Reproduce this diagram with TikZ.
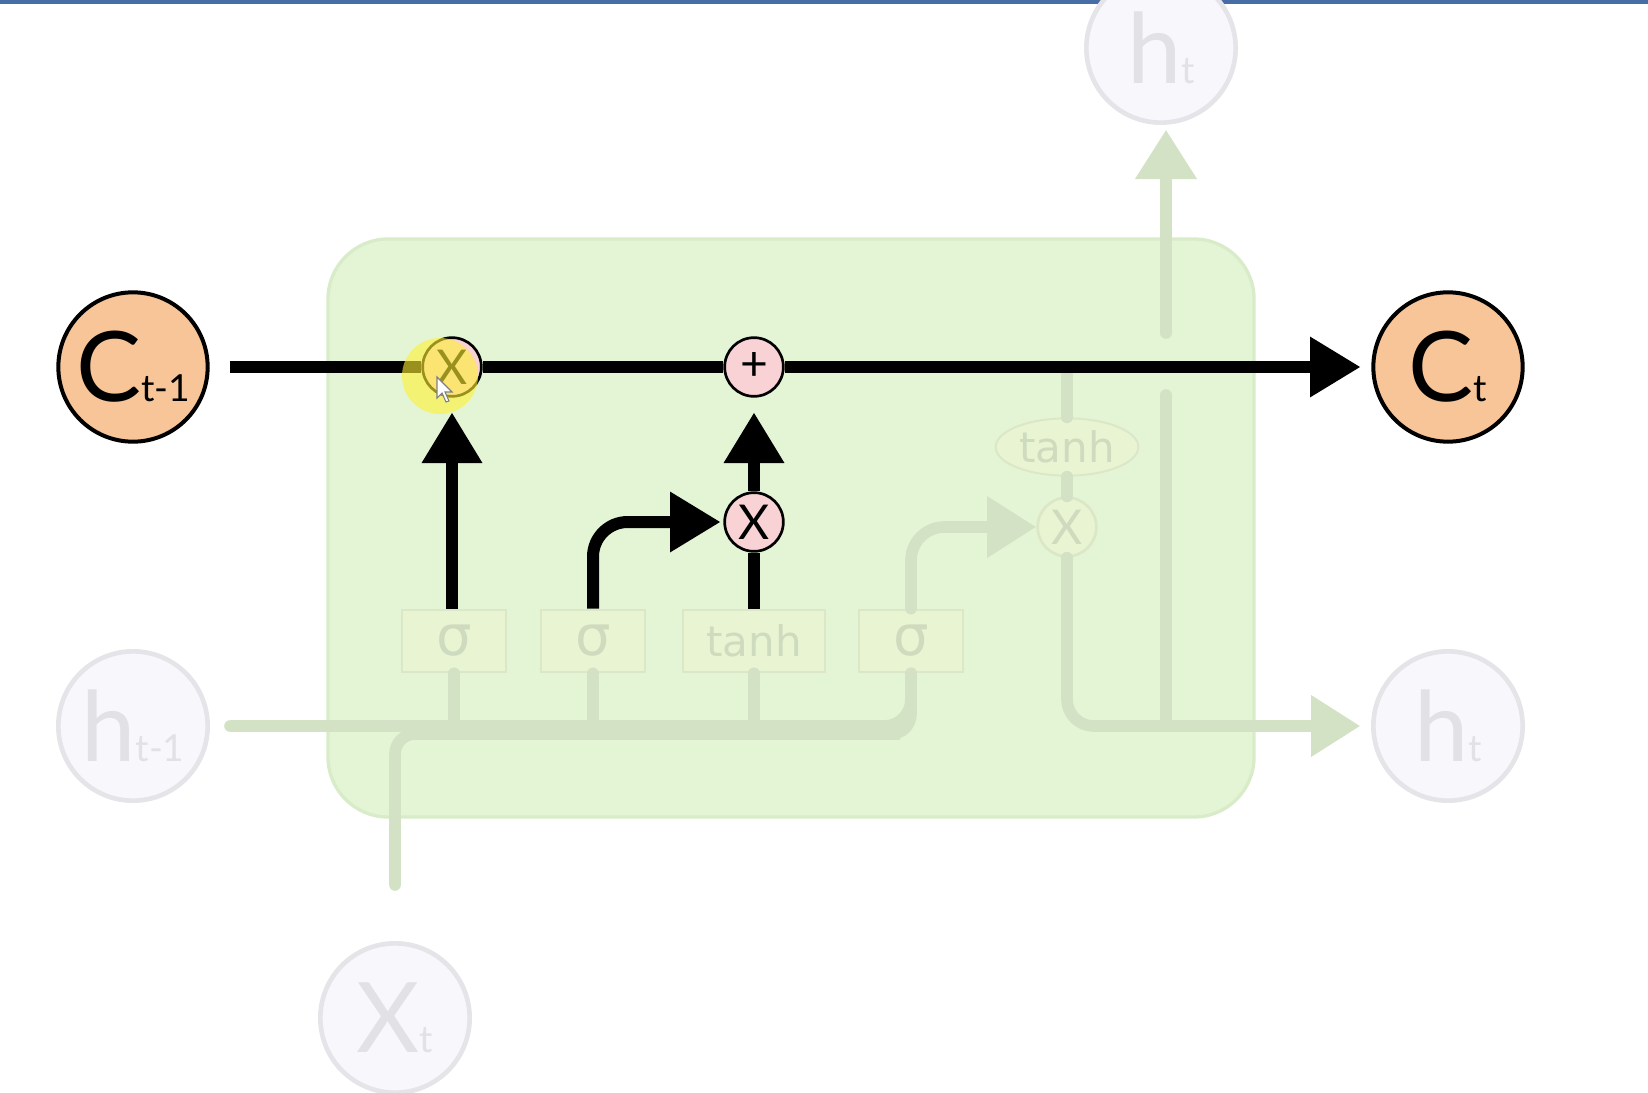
\documentclass[tikz,border=0pt]{standalone}
\usepackage{fontspec}
\setmainfont{DejaVu Sans}
\newfontfamily\lblfont{Lato}
\usetikzlibrary{arrows.meta,shapes.geometric}

\definecolor{barblue}{RGB}{72,108,165}
\definecolor{cellgreen}{RGB}{228,245,214}
\definecolor{celledge}{RGB}{217,236,201}
\definecolor{pathgreen}{RGB}{211,226,197}
\definecolor{boxfill}{RGB}{232,244,210}
\definecolor{boxedge}{RGB}{219,231,199}
\definecolor{boxtext}{RGB}{207,219,190}
\definecolor{stateorange}{RGB}{248,197,152}
\definecolor{oppink}{RGB}{248,210,212}
\definecolor{ghostfill}{RGB}{248,248,252}
\definecolor{ghostedge}{RGB}{229,229,233}
\definecolor{ghosttext}{RGB}{226,226,230}
\definecolor{halo}{RGB}{255,240,50}

\newcommand{\celllbl}[2]{{\lblfont\fontsize{73}{73}\selectfont #1\fontsize{28}{28}\selectfont #2}}
\newcommand{\opfont}{\lblfont\fontsize{36}{36}\selectfont}
\newcommand{\sigmafont}{\fontsize{42}{42}\selectfont}
\newcommand{\tanhfont}{\fontsize{31.5}{32}\selectfont}

\tikzset{every picture/.style={line width=0.75pt}}
\tikzset{
  statenode/.style={circle, draw=black, line width=3pt, fill=stateorange, minimum size=112pt, inner sep=0pt},
  ghostnode/.style={circle, draw=ghostedge, line width=3.5pt, fill=ghostfill, text=ghosttext, minimum size=112pt, inner sep=0pt},
  opnode/.style={circle, draw=black, line width=2pt, fill=oppink, minimum size=44pt, inner sep=0pt, font=\opfont},
  ghostopnode/.style={opnode, draw=boxedge, fill=boxfill, text=boxtext},
  layerbox/.style={rectangle, draw=boxedge, line width=1.5pt, fill=boxfill, text=boxtext, minimum width=78pt, minimum height=47pt, inner sep=0pt, font=\sigmafont},
  flowline/.style={draw=black, line width=9pt},
  flowtip/.style={-{Triangle[length=38pt,width=43pt]}},
  ghostline/.style={draw=pathgreen, line width=8.75pt, line cap=round, rounded corners=20pt},
  ghosttip/.style={-{Triangle[length=37pt,width=44pt]}}
}

\begin{document}
\begin{tikzpicture}[x=0.75pt,y=0.75pt,yscale=-1,xscale=1]
\useasboundingbox (0,0) rectangle (1648,1092);

%Shape: Rectangle [top bar]
\fill [barblue] (0,0) rectangle (1648,4);
%Rounded Rect [cell]
\draw [draw=celledge, fill=cellgreen, line width=2.5pt, rounded corners=45pt] (328,239) rectangle (1254,817);

% Layer Nodes
\node [layerbox] (sig1) at (454,641) {σ};
\node [layerbox] (sig2) at (593,641) {σ};
\node [layerbox, minimum width=107pt, font=\tanhfont] (tanhbox) at (754,641) {tanh};
\node [layerbox] (sig3) at (911,641) {σ};
\node [layerbox, ellipse, minimum width=107pt, minimum height=43pt, font=\tanhfont] (tanhell) at (1067,447) {tanh};

% Pointwise Nodes
\node [opnode] (fgate) at (452,367) {X};
\node [opnode] (addop) at (754,367) {+};
\node [opnode] (igate) at (754,522) {X};
\node [ghostopnode] (ogate) at (1067,527) {X};

% State Nodes
\node [statenode] (Cprev) at (133,367) {\celllbl{C}{t-1}};
\node [statenode] (Cnext) at (1448,367) {\celllbl{C}{t}};
\node [ghostnode] (hprev) at (133,726) {\celllbl{h}{t-1}};
\node [ghostnode] (hnext) at (1448,726) {\celllbl{h}{t}};
\node [ghostnode] (htop) at (1161,48) {\celllbl{h}{t}};
\node [ghostnode] (xin) at (395,1018) {\celllbl{X}{t}};

\coordinate (xjoin) at (880,734);
\coordinate (hsplit) at (1166,726);
\coordinate (hgapbot) at (1166,395);
\coordinate (hgaptop) at (1166,333);
\coordinate (htopin) at (1166,123);

% Faded Lines
\draw [ghostline, shorten <=15pt] (hprev.east) -| (sig3.south);
\draw [ghostline] (sig1.south) -- (sig1.south |- hprev.east);
\draw [ghostline] (sig2.south) -- (sig2.south |- hprev.east);
\draw [ghostline] (tanhbox.south) -- (tanhbox.south |- hprev.east);
\draw [ghostline, rounded corners=15pt, shorten <=42pt] (xin.north) |- (xjoin) -| (sig3.south);
\draw [ghostline, ghosttip, rounded corners=25pt] (sig3.north) |- (ogate.west);
\draw [ghostline] (tanhell.north) -- (tanhell.north |- fgate.center);
\draw [ghostline] (tanhell.south) -- (ogate.north);
\draw [ghostline, ghosttip, shorten >=8pt] (ogate.south) |- (hnext.west);
\draw [ghostline] (hsplit) -- (hgapbot);
\draw [ghostline, ghosttip, shorten >=5pt] (hgaptop) -- (htopin);

% Cell State Line
\draw [flowline, shorten <=15pt] (Cprev) -- (fgate);
\draw [flowline] (fgate) -- (addop);
\draw [flowline, flowtip, shorten >=8pt] (addop) -- (Cnext);

% Gate Arrows
\draw [flowline, flowtip, shorten >=11pt] (fgate |- sig1.north) -- (fgate.south);
\draw [flowline, flowtip, shorten >=11pt] (igate) -- (addop);
\draw [flowline] (tanhbox.north) -- (igate);
\draw [flowline, flowtip, rounded corners=26pt, shorten >=2pt] (sig2.north) |- (igate.west);

% Highlight and pointer
\fill [halo, opacity=0.6] (440,376) circle [radius=38];
\filldraw [fill=white, draw=gray, line width=0.8pt] (437,377) -- (437,398) -- (442,393) -- (446,402) -- (449,401) -- (445,392) -- (452,392) -- cycle;

\end{tikzpicture}
\end{document}
